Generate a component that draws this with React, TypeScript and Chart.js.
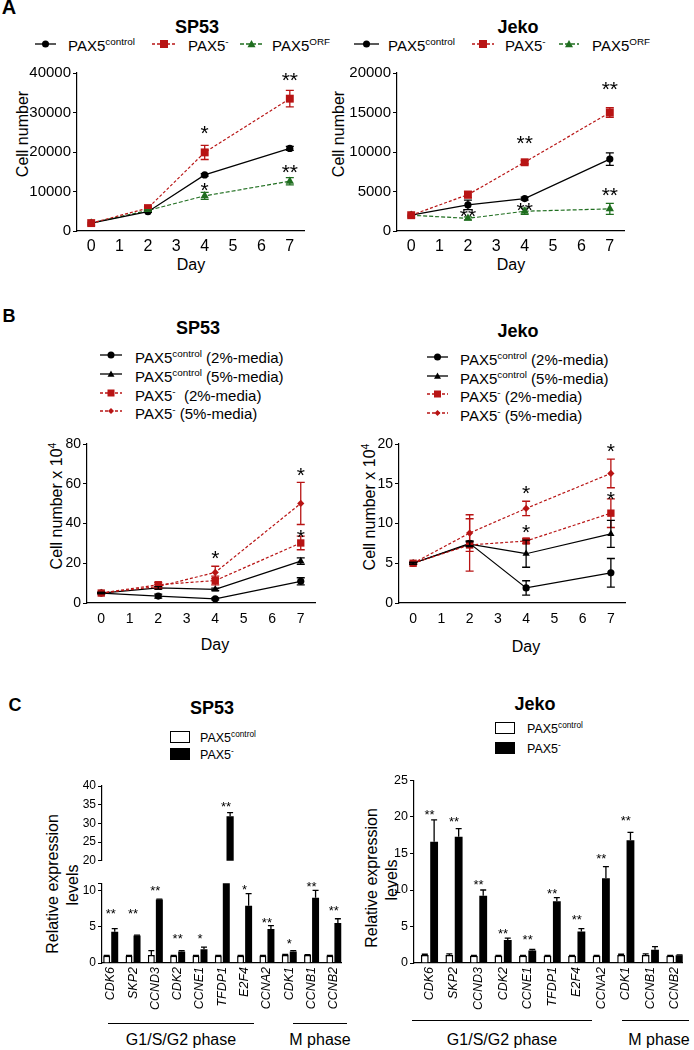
import React, { useEffect, useRef } from 'react';
import { Chart, registerables } from 'chart.js';

Chart.register(...registerables);

const FONT = '"Liberation Sans", Arial, Helvetica, sans-serif';
const RED = '#B81414';
const GREEN = '#1F6E1F';
const BLACK = '#000000';

// ---------- Panel A ----------
const days = [0, 2, 4, 7];
const dayTicks = [0, 1, 2, 3, 4, 5, 6, 7];

const aSpTicks = [0, 10000, 20000, 30000, 40000];
const aSpControl = [2000, 4900, 14200, 20900];
const aSpControlErr = [0, 200, 300, 500];
const aSpKd = [2000, 5800, 19900, 33500];
const aSpKdErr = [0, 300, 1800, 2100];
const aSpOrf = [2000, 5200, 8900, 12600];
const aSpOrfErr = [0, 200, 900, 900];
const aSpStarX = [4, 4, 7, 7];
const aSpStarY = [26000, 11700, 39500, 16300];
const aSpStarText = ['*', '*', '**', '**'];

const aJkTicks = [0, 5000, 10000, 15000, 20000];
const aJkControl = [2000, 3300, 4100, 9100];
const aJkControlErr = [0, 600, 200, 800];
const aJkKd = [2000, 4600, 8700, 15000];
const aJkKdErr = [0, 400, 200, 600];
const aJkOrf = [2000, 1600, 2500, 2800];
const aJkOrfErr = [0, 200, 400, 700];
const aJkStarX = [2, 4, 4, 7, 7];
const aJkStarY = [2500, 11800, 3300, 18600, 5200];
const aJkStarText = ['**', '**', '**', '**', '**'];

// ---------- Panel B (x 10^4) ----------
const bSpTicks = [0, 20, 40, 60, 80];
const bSpCtl2 = [5, 3.5, 2.1, 10.9];
const bSpCtl2Err = [0.3, 1.0, 0.5, 1.8];
const bSpCtl5 = [5, 7.6, 6.9, 21.1];
const bSpCtl5Err = [0.3, 0.6, 0.6, 1.6];
const bSpKd2 = [5, 9.2, 11.3, 30.2];
const bSpKd2Err = [0.3, 1.2, 2.2, 3.4];
const bSpKd5 = [5, 8.3, 15.4, 50.1];
const bSpKd5Err = [0.3, 1.0, 3.1, 10.6];
const bSpStarX = [4, 7, 7];
const bSpStarY = [25, 67, 36];
const bSpStarText = ['*', '*', '*'];

const bJkTicks = [0, 5, 10, 15, 20];
const bJkCtl2 = [5, 7.5, 1.9, 3.8];
const bJkCtl2Err = [0.1, 0.3, 0.9, 1.8];
const bJkCtl5 = [5, 7.4, 6.2, 8.7];
const bJkCtl5Err = [0.1, 0.3, 1.7, 1.7];
const bJkKd2 = [5, 7.3, 7.8, 11.3];
const bJkKd2Err = [0.1, 3.3, 0.3, 1.8];
const bJkKd5 = [5, 8.8, 11.9, 16.3];
const bJkKd5Err = [0.1, 2.3, 0.9, 1.8];
const bJkStarX = [4, 4, 7, 7];
const bJkStarY = [14.5, 9.6, 19.8, 13.7];
const bJkStarText = ['*', '*', '*', '*'];

// ---------- Panel C ----------
const genes = ['CDK6', 'SKP2', 'CCND3', 'CDK2', 'CCNE1', 'TFDP1', 'E2F4', 'CCNA2', 'CDK1', 'CCNB1', 'CCNB2'];

const cSpUpperTicks = [20, 25, 30, 35, 40];
const cSpLowerTicks = [0, 5, 10, 11];
const cSpCtl = [1.0, 1.0, 1.1, 1.0, 1.0, 1.0, 1.0, 1.0, 1.1, 1.1, 1.0];
const cSpCtlErr = [0.05, 0.05, 0.6, 0.05, 0.05, 0.05, 0.05, 0.05, 0.1, 0.05, 0.05];
const cSpKd = [4.3, 3.8, 8.75, 1.6, 1.9, 31.9, 7.9, 4.7, 1.6, 9.0, 5.5];
const cSpKdErr = [0.45, 0.05, 0.05, 0.1, 0.3, 1.0, 1.65, 0.45, 0.1, 1.0, 0.6];
const cSpStarY = [7.3, 7.2, 10.4, 3.8, 3.8, 35.4, 10.6, 6.0, 3.1, 11.0, 7.6];
const cSpStarText = ['**', '**', '**', '**', '*', '**', '*', '**', '*', '**', '**'];

const cJkTicks = [0, 5, 10, 15, 20, 25];
const cJkCtl = [1.1, 1.1, 1.0, 1.0, 1.0, 1.0, 1.0, 1.0, 1.1, 1.1, 1.0];
const cJkCtlErr = [0.1, 0.15, 0.05, 0.05, 0.05, 0.05, 0.05, 0.05, 0.1, 0.15, 0.05];
const cJkKd = [16.6, 17.3, 9.2, 3.15, 1.7, 8.45, 4.3, 11.6, 16.8, 1.8, 1.05];
const cJkKdErr = [3.0, 1.1, 0.8, 0.25, 0.15, 0.5, 0.4, 1.6, 1.1, 0.45, 0.05];
const cJkStarIdx = [0, 1, 2, 3, 4, 5, 6, 7, 8];
const cJkStarY = [20.7, 19.8, 11.2, 4.4, 3.6, 10.0, 6.4, 14.8, 19.9];
const cJkStarText = ['**', '**', '**', '**', '**', '**', '**', '**', '**'];

// ---------- plugins ----------
function errorBarPlugin(clip: boolean, cap: number, width: number) {
  return {
    id: 'errorBars',
    afterDatasetsDraw(chart: any) {
      const { ctx, chartArea } = chart;
      ctx.save();
      if (clip) {
        ctx.beginPath();
        ctx.rect(chartArea.left - 30, chartArea.top, chartArea.right - chartArea.left + 60, chartArea.bottom - chartArea.top);
        ctx.clip();
      }
      chart.data.datasets.forEach((ds: any, i: number) => {
        const errs = ds.errors;
        if (!errs) return;
        const meta = chart.getDatasetMeta(i);
        const ys = chart.scales[meta.yAxisID];
        ctx.strokeStyle = ds.errorColor || ds.borderColor;
        ctx.lineWidth = width;
        meta.data.forEach((el: any, j: number) => {
          const e = errs[j];
          if (!e) return;
          const raw = ds.data[j];
          const v = typeof raw === 'number' ? raw : raw.y;
          const x = el.x;
          const top = ys.getPixelForValue(v + e);
          const bot = ds.errorUpOnly ? ys.getPixelForValue(v) : ys.getPixelForValue(v - e);
          ctx.beginPath();
          ctx.moveTo(x, top);
          ctx.lineTo(x, bot);
          ctx.moveTo(x - cap, top);
          ctx.lineTo(x + cap, top);
          if (!ds.errorUpOnly) {
            ctx.moveTo(x - cap, bot);
            ctx.lineTo(x + cap, bot);
          }
          ctx.stroke();
        });
      });
      ctx.restore();
    },
  };
}

function starPlugin(xs: number[], ys: number[], texts: string[], size: number) {
  return {
    id: 'stars',
    afterDraw(chart: any) {
      const { ctx } = chart;
      const xs_ = chart.scales.x;
      const ys_ = chart.scales.y;
      ctx.save();
      ctx.fillStyle = '#000';
      ctx.font = `${size}px ${FONT}`;
      ctx.textAlign = 'center';
      ctx.textBaseline = 'alphabetic';
      xs.forEach((xv, i) => {
        const px = xs_.getPixelForValue(xv);
        const py = ys_.getPixelForValue(ys[i]);
        ctx.fillText(texts[i], px, py + 0.58 * size);
      });
      ctx.restore();
    },
  };
}

// ---------- axis builders ----------
function yAxis(min: number, max: number, ticks: number[], size: number, width: number, blankAbove?: number) {
  return {
    type: 'linear',
    min,
    max,
    afterBuildTicks: (ax: any) => {
      ax.ticks = ticks.map((v) => ({ value: v }));
    },
    afterFit: (ax: any) => {
      ax.width = width;
    },
    grid: { display: true, drawOnChartArea: false, drawTicks: true, tickLength: 4, color: BLACK, lineWidth: 1 },
    border: { display: true, color: BLACK, width: 1.2 },
    ticks: {
      color: BLACK,
      font: { family: FONT, size },
      padding: 2,
      callback: (v: any) => (blankAbove !== undefined && v > blankAbove ? '' : String(v)),
    },
  };
}

function xDayAxis(size: number, height: number, pad: number) {
  return {
    type: 'linear',
    min: -0.5,
    max: 7.5,
    afterBuildTicks: (ax: any) => {
      ax.ticks = dayTicks.map((v) => ({ value: v }));
    },
    afterFit: (ax: any) => {
      ax.height = height;
    },
    grid: { display: false, drawTicks: false },
    border: { display: true, color: BLACK, width: 1.2 },
    ticks: { color: BLACK, font: { family: FONT, size }, padding: pad, maxRotation: 0, callback: (v: any) => String(v) },
  };
}

type Series = { values: number[]; errors: number[]; color: string; dash: number[]; shape: string; r: number };

function lineConfig(o: {
  series: Series[];
  yMax: number;
  yTicks: number[];
  tickSize: number;
  xTickSize: number;
  xPad: number;
  starX: number[];
  starY: number[];
  starText: string[];
  starSize: number;
  pad: { left: number; right: number; top: number; bottom: number };
}) {
  return {
    type: 'line',
    data: {
      datasets: o.series.map((s) => ({
        data: days.map((d, i) => ({ x: d, y: s.values[i] })),
        errors: s.errors,
        borderColor: s.color,
        backgroundColor: s.color,
        borderWidth: 1.2,
        borderDash: s.dash,
        pointStyle: s.shape,
        pointRadius: s.r,
        pointHoverRadius: s.r,
        pointBackgroundColor: s.color,
        pointBorderColor: s.color,
        pointBorderWidth: 0,
        tension: 0,
        fill: false,
        clip: false,
      })),
    },
    options: {
      responsive: false,
      animation: false,
      devicePixelRatio: 1,
      events: [],
      layout: { autoPadding: false, padding: { top: o.pad.top, right: o.pad.right, left: 0, bottom: 0 } },
      plugins: { legend: { display: false }, tooltip: { enabled: false }, title: { display: false } },
      scales: {
        x: xDayAxis(o.xTickSize, o.pad.bottom, o.xPad),
        y: yAxis(0, o.yMax, o.yTicks, o.tickSize, o.pad.left),
      },
    },
    plugins: [errorBarPlugin(false, 4, 1.3), starPlugin(o.starX, o.starY, o.starText, o.starSize)],
  };
}

function barConfig(o: {
  ctl: number[];
  ctlErr: number[];
  kd: number[];
  kdErr: number[];
  yMin: number;
  yMax: number;
  yTicks: number[];
  blankAbove?: number;
  showX: boolean;
  xMin: number;
  xMax: number;
  tickSize: number;
  geneSize: number;
  catPct: number;
  barPct: number;
  starX: number[];
  starY: number[];
  starText: string[];
  pad: { left: number; right: number; top: number; bottom: number };
}) {
  return {
    type: 'bar',
    data: {
      datasets: [
        {
          data: o.ctl.map((v, i) => ({ x: i, y: v })),
          errors: o.ctlErr,
          errorUpOnly: true,
          errorColor: BLACK,
          backgroundColor: '#ffffff',
          borderColor: BLACK,
          borderWidth: 1.5,
          categoryPercentage: o.catPct,
          barPercentage: o.barPct,
          clip: 0,
        },
        {
          data: o.kd.map((v, i) => ({ x: i, y: v })),
          errors: o.kdErr,
          errorUpOnly: true,
          errorColor: BLACK,
          backgroundColor: BLACK,
          borderColor: BLACK,
          borderWidth: 0,
          categoryPercentage: o.catPct,
          barPercentage: o.barPct,
          clip: 0,
        },
      ],
    },
    options: {
      responsive: false,
      animation: false,
      devicePixelRatio: 1,
      events: [],
      layout: {
        autoPadding: false,
        padding: { top: o.pad.top, right: o.pad.right, left: 0, bottom: o.showX ? 0 : o.pad.bottom },
      },
      plugins: { legend: { display: false }, tooltip: { enabled: false }, title: { display: false } },
      scales: {
        x: {
          type: 'linear',
          display: o.showX,
          min: o.xMin,
          max: o.xMax,
          offset: false,
          afterBuildTicks: (ax: any) => {
            ax.ticks = genes.map((_, i) => ({ value: i }));
          },
          afterFit: (ax: any) => {
            ax.height = o.pad.bottom;
          },
          grid: { display: false, drawTicks: false },
          border: { display: true, color: BLACK, width: 1.2 },
          ticks: {
            color: BLACK,
            font: { family: FONT, size: o.geneSize, style: 'italic' },
            padding: 4,
            minRotation: 90,
            maxRotation: 90,
            autoSkip: false,
            callback: (v: any) => genes[v] ?? '',
          },
        },
        y: yAxis(o.yMin, o.yMax, o.yTicks, o.tickSize, o.pad.left, o.blankAbove),
      },
    },
    plugins: [errorBarPlugin(true, 3, 1.3), starPlugin(o.starX, o.starY, o.starText, 13)],
  };
}

// ---------- components ----------
type Rect = { l: number; t: number; r: number; b: number };
type Pad = { left: number; right: number; top: number; bottom: number };

function ChartBox({ rect, pad, build }: { rect: Rect; pad: Pad; build: () => any }) {
  const ref = useRef<HTMLCanvasElement>(null);
  const w = rect.r - rect.l + pad.left + pad.right;
  const h = rect.b - rect.t + pad.top + pad.bottom;
  useEffect(() => {
    const chart = new Chart(ref.current as HTMLCanvasElement, build() as any);
    return () => chart.destroy();
  }, []);
  return (
    <div style={{ position: 'absolute', left: rect.l - pad.left, top: rect.t - pad.top, width: w, height: h }}>
      <canvas ref={ref} width={w} height={h} style={{ width: w, height: h, display: 'block' }} />
    </div>
  );
}

function Txt({
  x,
  y,
  size,
  bold,
  align,
  rotate,
  children,
}: {
  x: number;
  y: number;
  size: number;
  bold?: boolean;
  align?: 'start' | 'center';
  rotate?: boolean;
  children: React.ReactNode;
}) {
  const tx = align === 'start' ? '0' : '-50%';
  return (
    <div
      style={{
        position: 'absolute',
        left: x,
        top: y,
        fontSize: size,
        fontWeight: bold ? 'bold' : 'normal',
        lineHeight: 1,
        whiteSpace: 'nowrap',
        transform: `translate(${tx}, -50%)${rotate ? ' rotate(-90deg)' : ''}`,
      }}
    >
      {children}
    </div>
  );
}

const Sup = ({ children }: { children: React.ReactNode }) => (
  <span style={{ fontSize: '0.66em', verticalAlign: '0.55em', lineHeight: 0 }}>{children}</span>
);

function Mark({ x, y, w, color, dash, shape, r }: { x: number; y: number; w: number; color: string; dash?: string; shape: string; r: number }) {
  const h = 14;
  const c = w / 2;
  const m = h / 2;
  return (
    <svg style={{ position: 'absolute', left: x, top: y - m }} width={w} height={h}>
      <line x1={0} y1={m} x2={w} y2={m} stroke={color} strokeWidth={1.3} strokeDasharray={dash} />
      {shape === 'circle' && <circle cx={c} cy={m} r={r} fill={color} />}
      {shape === 'square' && <rect x={c - r} y={m - r} width={2 * r} height={2 * r} fill={color} />}
      {shape === 'triangle' && <polygon points={`${c},${m - r} ${c + r},${m + r * 0.8} ${c - r},${m + r * 0.8}`} fill={color} />}
      {shape === 'diamond' && <polygon points={`${c},${m - r} ${c + r},${m} ${c},${m + r} ${c - r},${m}`} fill={color} />}
    </svg>
  );
}

function Box({ x, y, filled }: { x: number; y: number; filled: boolean }) {
  return (
    <div
      style={{
        position: 'absolute',
        left: x,
        top: y - 6,
        width: 20,
        height: 12,
        boxSizing: 'border-box',
        border: '1.5px solid #000',
        background: filled ? '#000' : '#fff',
      }}
    />
  );
}

function HLine({ x1, x2, y }: { x1: number; x2: number; y: number }) {
  return <div style={{ position: 'absolute', left: x1, top: y, width: x2 - x1, height: 0, borderTop: '1.2px solid #000' }} />;
}

export default function App() {
  const aPad = { left: 70, right: 12, top: 12, bottom: 30 };
  const bPad = { left: 60, right: 12, top: 12, bottom: 30 };

  const aSpSeries: Series[] = [
    { values: aSpKd, errors: aSpKdErr, color: RED, dash: [3, 2], shape: 'rect', r: 5.6 },
    { values: aSpControl, errors: aSpControlErr, color: BLACK, dash: [], shape: 'circle', r: 3.6 },
    { values: aSpOrf, errors: aSpOrfErr, color: GREEN, dash: [4, 2], shape: 'triangle', r: 4.8 },
  ];
  const aJkSeries: Series[] = [
    { values: aJkKd, errors: aJkKdErr, color: RED, dash: [3, 2], shape: 'rect', r: 5.6 },
    { values: aJkControl, errors: aJkControlErr, color: BLACK, dash: [], shape: 'circle', r: 3.6 },
    { values: aJkOrf, errors: aJkOrfErr, color: GREEN, dash: [4, 2], shape: 'triangle', r: 4.8 },
  ];
  const bSpSeries: Series[] = [
    { values: bSpKd2, errors: bSpKd2Err, color: RED, dash: [3, 2], shape: 'rect', r: 5.2 },
    { values: bSpKd5, errors: bSpKd5Err, color: RED, dash: [3, 2], shape: 'rectRot', r: 3.6 },
    { values: bSpCtl2, errors: bSpCtl2Err, color: BLACK, dash: [], shape: 'circle', r: 3.6 },
    { values: bSpCtl5, errors: bSpCtl5Err, color: BLACK, dash: [], shape: 'triangle', r: 4.2 },
  ];
  const bJkSeries: Series[] = [
    { values: bJkKd2, errors: bJkKd2Err, color: RED, dash: [3, 2], shape: 'rect', r: 5.2 },
    { values: bJkKd5, errors: bJkKd5Err, color: RED, dash: [3, 2], shape: 'rectRot', r: 3.6 },
    { values: bJkCtl2, errors: bJkCtl2Err, color: BLACK, dash: [], shape: 'circle', r: 3.6 },
    { values: bJkCtl5, errors: bJkCtl5Err, color: BLACK, dash: [], shape: 'triangle', r: 4.2 },
  ];

  const spUpperStarsIdx = cSpStarY.map((v, i) => i).filter((i) => cSpStarY[i] > 15);
  const spLowerStarsIdx = cSpStarY.map((v, i) => i).filter((i) => cSpStarY[i] <= 15);

  const spXMin = -0.39;
  const spXMax = 10.35;
  const jkXMin = -0.63;
  const jkXMax = 10.32;

  return (
    <div
      style={{
        position: 'absolute',
        left: 0,
        top: 0,
        width: 694,
        height: 1050,
        background: '#fff',
        color: '#000',
        fontFamily: FONT,
        overflow: 'hidden',
      }}
    >
      {/* ---------- Panel A ---------- */}
      <Txt x={9} y={7} size={20} bold>A</Txt>
      <Txt x={197} y={27} size={18} bold>SP53</Txt>
      <Txt x={518} y={27} size={18} bold>Jeko</Txt>

      <Mark x={35} y={44} w={21} color={BLACK} shape="circle" r={3.5} />
      <Txt x={68} y={45} size={15} align="start">PAX5<Sup>control</Sup></Txt>
      <Mark x={152} y={44} w={24} color={RED} dash="3 2" shape="square" r={4} />
      <Txt x={188} y={45} size={15} align="start">PAX5<Sup>-</Sup></Txt>
      <Mark x={240} y={44} w={23} color={GREEN} dash="4 2" shape="triangle" r={4} />
      <Txt x={272} y={45} size={15} align="start">PAX5<Sup>ORF</Sup></Txt>

      <Mark x={354} y={44} w={25} color={BLACK} shape="circle" r={3.5} />
      <Txt x={388} y={45} size={15} align="start">PAX5<Sup>control</Sup></Txt>
      <Mark x={472} y={44} w={22} color={RED} dash="3 2" shape="square" r={4} />
      <Txt x={505} y={45} size={15} align="start">PAX5<Sup>-</Sup></Txt>
      <Mark x={559} y={44} w={20} color={GREEN} dash="4 2" shape="triangle" r={4} />
      <Txt x={592} y={45} size={15} align="start">PAX5<Sup>ORF</Sup></Txt>

      <Txt x={23} y={134} size={16} rotate>Cell number</Txt>
      <Txt x={339} y={134} size={16} rotate>Cell number</Txt>
      <Txt x={191} y={265} size={16}>Day</Txt>
      <Txt x={511} y={265} size={16}>Day</Txt>

      <ChartBox
        rect={{ l: 77, t: 73, r: 304, b: 231 }}
        pad={aPad}
        build={() =>
          lineConfig({
            series: aSpSeries,
            yMax: 40000,
            yTicks: aSpTicks,
            tickSize: 15,
            xTickSize: 16,
            xPad: 6,
            starX: aSpStarX,
            starY: aSpStarY,
            starText: aSpStarText,
            starSize: 21,
            pad: aPad,
          })
        }
      />
      <ChartBox
        rect={{ l: 397, t: 73, r: 624, b: 231 }}
        pad={aPad}
        build={() =>
          lineConfig({
            series: aJkSeries,
            yMax: 20000,
            yTicks: aJkTicks,
            tickSize: 15,
            xTickSize: 16,
            xPad: 6,
            starX: aJkStarX,
            starY: aJkStarY,
            starText: aJkStarText,
            starSize: 21,
            pad: aPad,
          })
        }
      />

      {/* ---------- Panel B ---------- */}
      <Txt x={9} y={316} size={18} bold>B</Txt>
      <Txt x={198} y={328} size={18} bold>SP53</Txt>
      <Txt x={518} y={331} size={18} bold>Jeko</Txt>

      <Mark x={100} y={355} w={22} color={BLACK} shape="circle" r={3.5} />
      <Txt x={135} y={357} size={15} align="start">PAX5<Sup>control</Sup> (2%-media)</Txt>
      <Mark x={100} y={374} w={22} color={BLACK} shape="triangle" r={3.5} />
      <Txt x={135} y={376} size={15} align="start">PAX5<Sup>control</Sup> (5%-media)</Txt>
      <Mark x={100} y={393} w={22} color={RED} dash="3 2" shape="square" r={3.5} />
      <Txt x={135} y={395} size={15} align="start">PAX5<Sup>-</Sup>&nbsp; (2%-media)</Txt>
      <Mark x={100} y={411} w={22} color={RED} dash="3 2" shape="diamond" r={3} />
      <Txt x={135} y={413} size={15} align="start">PAX5<Sup>-</Sup> (5%-media)</Txt>

      <Mark x={427} y={357} w={21} color={BLACK} shape="circle" r={3.5} />
      <Txt x={460} y={359} size={15} align="start">PAX5<Sup>control</Sup> (2%-media)</Txt>
      <Mark x={427} y={376} w={21} color={BLACK} shape="triangle" r={3.5} />
      <Txt x={460} y={378} size={15} align="start">PAX5<Sup>control</Sup> (5%-media)</Txt>
      <Mark x={427} y={394} w={21} color={RED} dash="3 2" shape="square" r={3.5} />
      <Txt x={460} y={396} size={15} align="start">PAX5<Sup>-</Sup> (2%-media)</Txt>
      <Mark x={427} y={413} w={21} color={RED} dash="3 2" shape="diamond" r={3} />
      <Txt x={460} y={415} size={15} align="start">PAX5<Sup>-</Sup> (5%-media)</Txt>

      <Txt x={57} y={506} size={16} rotate>Cell number x 10<Sup>4</Sup></Txt>
      <Txt x={370} y={507} size={16} rotate>Cell number x 10<Sup>4</Sup></Txt>
      <Txt x={215} y={645} size={16}>Day</Txt>
      <Txt x={526} y={647} size={16}>Day</Txt>

      <ChartBox
        rect={{ l: 87, t: 444, r: 315, b: 603 }}
        pad={bPad}
        build={() =>
          lineConfig({
            series: bSpSeries,
            yMax: 80,
            yTicks: bSpTicks,
            tickSize: 14,
            xTickSize: 14,
            xPad: 8,
            starX: bSpStarX,
            starY: bSpStarY,
            starText: bSpStarText,
            starSize: 21,
            pad: bPad,
          })
        }
      />
      <ChartBox
        rect={{ l: 399, t: 444, r: 625, b: 603 }}
        pad={bPad}
        build={() =>
          lineConfig({
            series: bJkSeries,
            yMax: 20,
            yTicks: bJkTicks,
            tickSize: 14,
            xTickSize: 14,
            xPad: 8,
            starX: bJkStarX,
            starY: bJkStarY,
            starText: bJkStarText,
            starSize: 21,
            pad: bPad,
          })
        }
      />

      {/* ---------- Panel C ---------- */}
      <Txt x={15} y={705} size={18} bold>C</Txt>
      <Txt x={212} y={708} size={18} bold>SP53</Txt>
      <Txt x={535} y={704} size={18} bold>Jeko</Txt>

      <Box x={170} y={737} filled={false} />
      <Txt x={200} y={738} size={12.5} align="start">PAX5<Sup>control</Sup></Txt>
      <Box x={170} y={754} filled />
      <Txt x={200} y={755} size={12.5} align="start">PAX5<Sup>-</Sup></Txt>

      <Box x={495} y={728} filled={false} />
      <Txt x={527} y={729} size={12.5} align="start">PAX5<Sup>control</Sup></Txt>
      <Box x={495} y={748} filled />
      <Txt x={527} y={749} size={12.5} align="start">PAX5<Sup>-</Sup></Txt>

      <Txt x={53} y={884} size={16} rotate>Relative expression</Txt>
      <Txt x={73} y={885} size={16} rotate>levels</Txt>
      <Txt x={372} y={878} size={16} rotate>Relative expression</Txt>
      <Txt x={392} y={880} size={16} rotate>levels</Txt>

      <ChartBox
        rect={{ l: 102, t: 786, r: 349, b: 868 }}
        pad={{ left: 40, right: 4, top: 14, bottom: 2 }}
        build={() =>
          barConfig({
            ctl: cSpCtl,
            ctlErr: cSpCtlErr,
            kd: cSpKd,
            kdErr: cSpKdErr,
            yMin: 20,
            yMax: 40,
            yTicks: cSpUpperTicks,
            showX: false,
            xMin: spXMin,
            xMax: spXMax,
            tickSize: 12,
            geneSize: 12.5,
            catPct: 0.72,
            barPct: 0.87,
            starX: spUpperStarsIdx,
            starY: spUpperStarsIdx.map((i) => cSpStarY[i]),
            starText: spUpperStarsIdx.map((i) => cSpStarText[i]),
            pad: { left: 40, right: 4, top: 14, bottom: 2 },
          })
        }
      />
      <ChartBox
        rect={{ l: 102, t: 880, r: 349, b: 963 }}
        pad={{ left: 40, right: 4, top: 6, bottom: 55 }}
        build={() =>
          barConfig({
            ctl: cSpCtl,
            ctlErr: cSpCtlErr,
            kd: cSpKd,
            kdErr: cSpKdErr,
            yMin: 0,
            yMax: 11,
            yTicks: cSpLowerTicks,
            blankAbove: 10,
            showX: true,
            xMin: spXMin,
            xMax: spXMax,
            tickSize: 12,
            geneSize: 12.5,
            catPct: 0.72,
            barPct: 0.87,
            starX: spLowerStarsIdx,
            starY: spLowerStarsIdx.map((i) => cSpStarY[i]),
            starText: spLowerStarsIdx.map((i) => cSpStarText[i]),
            pad: { left: 40, right: 4, top: 6, bottom: 55 },
          })
        }
      />
      <ChartBox
        rect={{ l: 414, t: 779, r: 690, b: 963 }}
        pad={{ left: 40, right: 4, top: 8, bottom: 55 }}
        build={() =>
          barConfig({
            ctl: cJkCtl,
            ctlErr: cJkCtlErr,
            kd: cJkKd,
            kdErr: cJkKdErr,
            yMin: 0,
            yMax: 25,
            yTicks: cJkTicks,
            showX: true,
            xMin: jkXMin,
            xMax: jkXMax,
            tickSize: 12.5,
            geneSize: 12.5,
            catPct: 0.76,
            barPct: 0.84,
            starX: cJkStarIdx,
            starY: cJkStarY,
            starText: cJkStarText,
            pad: { left: 40, right: 4, top: 8, bottom: 55 },
          })
        }
      />

      <HLine x1={108} x2={254} y={1023} />
      <HLine x1={293} x2={347} y={1023} />
      <Txt x={181} y={1040} size={16}>G1/S/G2 phase</Txt>
      <Txt x={320} y={1040} size={16}>M phase</Txt>

      <HLine x1={412} x2={592} y={1020} />
      <HLine x1={622} x2={689} y={1020} />
      <Txt x={502} y={1040} size={16}>G1/S/G2 phase</Txt>
      <Txt x={659} y={1040} size={16}>M phase</Txt>
    </div>
  );
}
